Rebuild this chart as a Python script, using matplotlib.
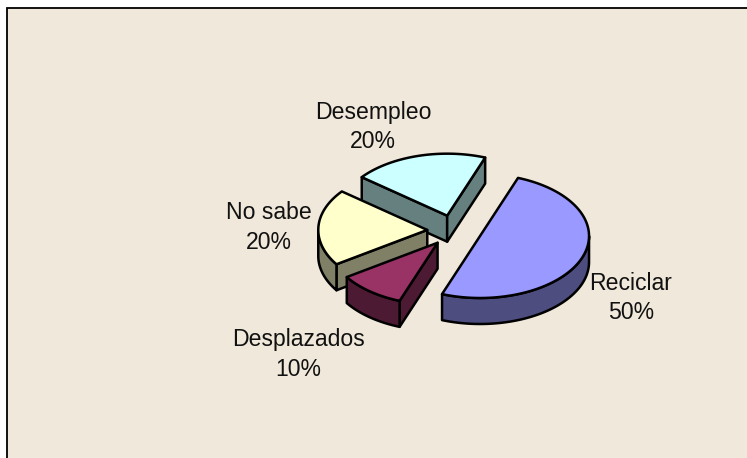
import numpy as np
import matplotlib
matplotlib.use("Agg")
import matplotlib.pyplot as plt
from matplotlib.patches import Polygon, Rectangle

# datos del grafico
nombres = ["Reciclar", "Desplazados", "No sabe", "Desempleo"]
valores = [50, 10, 20, 20]
colores = ["#9999FF", "#993366", "#FFFFCC", "#CCFFFF"]
laterales = ["#4D4D80", "#4D1A33", "#808066", "#668080"]
pos_texto = [(631, 298), (298, 354.5), (269, 227.5), (373, 127)]

plt.rcParams["font.family"] = ["Liberation Sans", "DejaVu Sans"]

# pie en perspectiva, todo en pixeles
cx, cy = 454.5, 230.6
a, b = 109, 62
alto = 26
explode = 0.25
inicio = 69.6
fondo = "#F0E8DA"
lw = 1.8

fig = plt.figure(figsize=(7.47, 4.58), dpi=100)
fig.patch.set_facecolor("white")
ax = fig.add_axes([0, 0, 1, 1])
ax.set_xlim(0, 747)
ax.set_ylim(458, 0)
ax.axis("off")

ax.add_patch(Rectangle((7, 8), 760, 470, facecolor=fondo, edgecolor="black", linewidth=1.3))


def punto(c, ang):
    r = np.radians(ang)
    return c[0] + a * np.cos(r), c[1] - b * np.sin(r)


def arco(c, a1, a2, n=80):
    angs = np.linspace(a1, a2, n)
    return np.column_stack([c[0] + a * np.cos(np.radians(angs)), c[1] - b * np.sin(np.radians(angs))])


def pared(p1, p2, color, z):
    ax.add_patch(Polygon([p1, p2, (p2[0], p2[1] + alto), (p1[0], p1[1] + alto)], closed=True,
                         facecolor=color, edgecolor="black", linewidth=lw, joinstyle="round", zorder=z))


# angulos de cada rebanada (sentido horario)
total = sum(valores)
angulos = []
ang = inicio
for v in valores:
    angulos.append((ang, ang - 360 * v / total))
    ang = ang - 360 * v / total

# se dibuja de atras hacia adelante
for z, i in enumerate([3, 2, 1, 0]):
    a1, a2 = angulos[i]
    medio = np.radians((a1 + a2) / 2)
    c = (cx + explode * a * np.cos(medio), cy - explode * b * np.sin(medio))
    z = z * 10 + 2

    # paredes rectas visibles
    if np.cos(np.radians(a1)) < 0:
        pared(c, punto(c, a1), laterales[i], z)
    if np.cos(np.radians(a2)) > 0:
        pared(c, punto(c, a2), laterales[i], z)

    # parte frontal del arco (abajo de la elipse)
    for k in range(-2, 1):
        lo = max(min(a1, a2), 360 * k - 180)
        hi = min(max(a1, a2), 360 * k)
        if hi > lo:
            borde = arco(c, hi, lo)
            abajo = borde[::-1] + [0, alto]
            ax.add_patch(Polygon(np.vstack([borde, abajo]), closed=True, facecolor=laterales[i],
                                 edgecolor="black", linewidth=lw, joinstyle="round", zorder=z))

    # cara superior
    cara = np.vstack([[c], arco(c, a1, a2)])
    ax.add_patch(Polygon(cara, closed=True, facecolor=colores[i], edgecolor="black",
                         linewidth=lw, joinstyle="round", zorder=z + 1))

for nombre, v, (x, y) in zip(nombres, valores, pos_texto):
    ax.text(x, y, f"{nombre}\n{v}%", ha="center", va="center", fontsize=16.6,
            color="#111111", linespacing=1.34, zorder=100)

fig.savefig("out.png", dpi=100, facecolor=fig.get_facecolor())
